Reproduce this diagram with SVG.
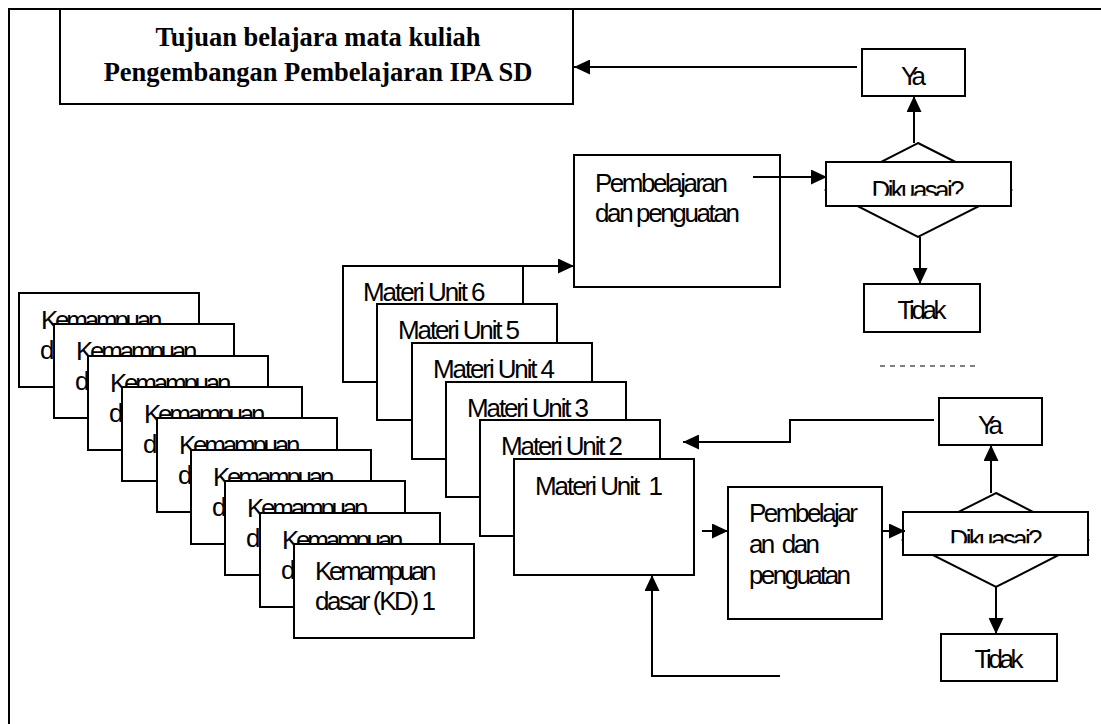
<svg xmlns="http://www.w3.org/2000/svg" width="1101" height="724" viewBox="0 0 1101 724">
  <style>
    .box { fill: #ffffff; stroke: #000000; stroke-width: 2; }
    .ln { fill: none; stroke: #000000; stroke-width: 2; }
    .t { font-family: "Liberation Sans Narrow", "Arial Narrow", "Liberation Sans", Arial, sans-serif; font-size: 26px; fill: #000000; }
    .c { text-anchor: middle; }
    .title { font-family: "Liberation Serif", "Times New Roman", serif; font-size: 26.5px; font-weight: bold; text-anchor: middle; fill: #000000; }
  </style>
  <defs>
    <marker id="arrow" markerUnits="userSpaceOnUse" markerWidth="16" markerHeight="15" refX="16" refY="7.5" orient="auto">
      <path d="M0,0 L16,7.5 L0,15 Z" fill="#000000"/>
    </marker>
    <clipPath id="clipQ1"><rect x="826" y="160" width="185" height="35.7"/></clipPath>
    <clipPath id="clipQ2"><rect x="903" y="510" width="185" height="33.3"/></clipPath>
  </defs>

  <rect width="1101" height="724" fill="#ffffff"/>

  <!-- page frame: only the left and top edges fall inside the view -->
  <path class="ln" d="M9,724 V9 H1101"/>

  <!-- goal box -->
  <g id="tujuan">
    <rect class="box" x="60" y="9" width="513" height="95"/>
    <text class="title" x="318" y="46">Tujuan belajara mata kuliah</text>
    <text class="title" x="318" y="81">Pengembangan Pembelajaran IPA SD</text>
  </g>

  <!-- stacked basic competence cards, back to front -->
  <g id="kd-stack">
    <g id="kd9"><rect class="box" x="19" y="293" width="180" height="94"/><text class="t" x="41" y="329" textLength="121.5">Kemampuan</text><text class="t" x="40" y="359">d</text></g>
    <g id="kd8"><rect class="box" x="54" y="324" width="180" height="94"/><text class="t" x="76" y="360" textLength="121.5">Kemampuan</text><text class="t" x="75" y="390">d</text></g>
    <g id="kd7"><rect class="box" x="88" y="356" width="180" height="94"/><text class="t" x="110" y="392" textLength="121.5">Kemampuan</text><text class="t" x="109" y="422">d</text></g>
    <g id="kd6"><rect class="box" x="122" y="387" width="180" height="94"/><text class="t" x="144" y="423" textLength="121.5">Kemampuan</text><text class="t" x="143" y="453">d</text></g>
    <g id="kd5"><rect class="box" x="157" y="418" width="180" height="94"/><text class="t" x="179" y="454" textLength="121.5">Kemampuan</text><text class="t" x="178" y="484">d</text></g>
    <g id="kd4"><rect class="box" x="191" y="450" width="180" height="94"/><text class="t" x="213" y="486" textLength="121.5">Kemampuan</text><text class="t" x="212" y="516">d</text></g>
    <g id="kd3"><rect class="box" x="225" y="481" width="180" height="94"/><text class="t" x="247" y="517" textLength="121.5">Kemampuan</text><text class="t" x="246" y="547">d</text></g>
    <g id="kd2"><rect class="box" x="260" y="513" width="180" height="94"/><text class="t" x="282" y="549" textLength="121.5">Kemampuan</text><text class="t" x="281" y="579">d</text></g>
    <g id="kd1"><rect class="box" x="294" y="544" width="180" height="94"/><text class="t" x="315" y="580" textLength="121.5">Kemampuan</text><text class="t" x="315" y="610" textLength="121">dasar (KD) 1</text></g>
  </g>

  <!-- stacked unit material cards, back to front -->
  <g id="materi-stack">
    <g id="unit6"><rect class="box" x="343" y="266" width="180" height="116"/><text class="t" x="363" y="301" textLength="122.5">Materi Unit 6</text></g>
    <g id="unit5"><rect class="box" x="377" y="304" width="180" height="116"/><text class="t" x="398" y="339" textLength="122">Materi Unit 5</text></g>
    <g id="unit4"><rect class="box" x="412" y="343" width="180" height="116"/><text class="t" x="433" y="378" textLength="122">Materi Unit 4</text></g>
    <g id="unit3"><rect class="box" x="446" y="382" width="180" height="115"/><text class="t" x="467" y="417" textLength="122">Materi Unit 3</text></g>
    <g id="unit2"><rect class="box" x="480" y="420" width="180" height="116"/><text class="t" x="501" y="455" textLength="122">Materi Unit 2</text></g>
    <g id="unit1"><rect class="box" x="514" y="459" width="180" height="116"/><text class="t" x="535" y="495" textLength="128" xml:space="preserve">Materi Unit  1</text></g>
  </g>

  <!-- upper learning loop -->
  <g id="pembelajaran-atas">
    <rect class="box" x="574" y="155" width="206" height="132"/>
    <text class="t" x="595" y="192" textLength="133">Pembelajaran</text>
    <text class="t" x="595" y="222" textLength="145">dan penguatan</text>
  </g>
  <g id="dikuasai-atas">
    <polygon class="box" points="918,143 1011,190 918,237 826,190"/>
    <rect class="box" x="826" y="162" width="185" height="44"/>
    <text class="t c" x="918" y="199" textLength="93" clip-path="url(#clipQ1)">Dikuasai?</text>
  </g>
  <g id="ya-atas">
    <rect class="box" x="862" y="49" width="103" height="47"/>
    <text class="t c" x="913.5" y="85" textLength="25">Ya</text>
  </g>
  <g id="tidak-atas">
    <rect class="box" x="864" y="284" width="116" height="48"/>
    <text class="t c" x="922" y="319" textLength="49">Tidak</text>
  </g>

  <!-- lower learning loop -->
  <g id="pembelajaran-bawah">
    <rect class="box" x="728" y="487" width="154" height="132"/>
    <text class="t" x="749" y="522" textLength="109">Pembelajar</text>
    <text class="t" x="749" y="553" textLength="71" xml:space="preserve">an  dan</text>
    <text class="t" x="749" y="584" textLength="102">penguatan</text>
  </g>
  <g id="dikuasai-bawah">
    <polygon class="box" points="996,493 1088,540 996,587 903,540"/>
    <rect class="box" x="903" y="512" width="185" height="43"/>
    <text class="t c" x="996" y="547.5" textLength="93" clip-path="url(#clipQ2)">Dikuasai?</text>
  </g>
  <g id="ya-bawah">
    <rect class="box" x="939" y="398" width="103" height="47"/>
    <text class="t c" x="990.5" y="434" textLength="25">Ya</text>
  </g>
  <g id="tidak-bawah">
    <rect class="box" x="941" y="634" width="116" height="47"/>
    <text class="t c" x="999" y="668" textLength="49">Tidak</text>
  </g>

  <!-- connectors -->
  <g id="connectors">
    <line class="ln" x1="857" y1="67" x2="574" y2="67" marker-end="url(#arrow)"/>
    <line class="ln" x1="523" y1="266" x2="574" y2="266" marker-end="url(#arrow)"/>
    <line class="ln" x1="753" y1="177" x2="827" y2="177" marker-end="url(#arrow)"/>
    <line class="ln" x1="914" y1="143" x2="914" y2="96" marker-end="url(#arrow)"/>
    <line class="ln" x1="920" y1="237" x2="920" y2="284" marker-end="url(#arrow)"/>
    <path class="ln" d="M934,420 H790 V442 H683" marker-end="url(#arrow)"/>
    <line class="ln" x1="702" y1="531" x2="728" y2="531" marker-end="url(#arrow)"/>
    <line class="ln" x1="882" y1="531" x2="905" y2="531" marker-end="url(#arrow)"/>
    <line class="ln" x1="991" y1="493" x2="991" y2="445" marker-end="url(#arrow)"/>
    <line class="ln" x1="996" y1="587" x2="996" y2="634" marker-end="url(#arrow)"/>
    <path class="ln" d="M780,676 H652 V575" marker-end="url(#arrow)"/>
    <line x1="880" y1="366" x2="978" y2="366" stroke="#000000" stroke-width="1.2" stroke-dasharray="5 5"/>
  </g>
</svg>
